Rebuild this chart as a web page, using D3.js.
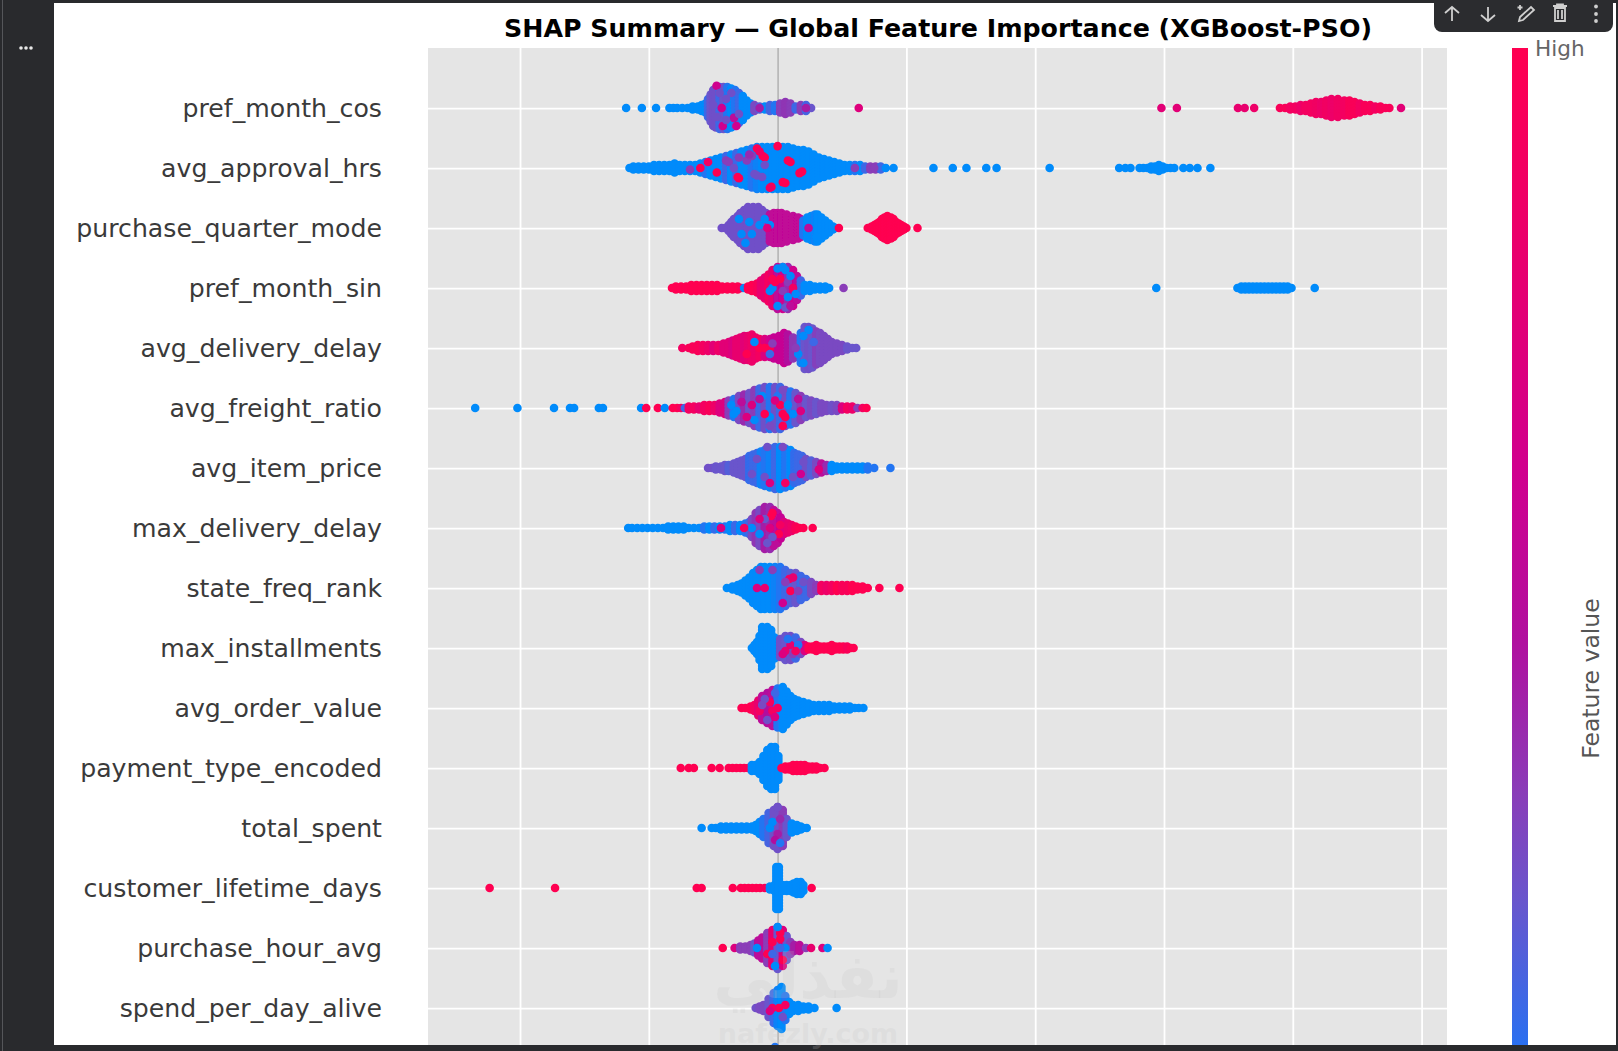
<!DOCTYPE html>
<html><head><meta charset="utf-8">
<script src="https://cdn.jsdelivr.net/npm/d3@7/dist/d3.min.js"></script>
<style>html,body{margin:0;padding:0;background:#292a2d;overflow:hidden}svg{display:block}text{font-family:"DejaVu Sans",sans-serif}</style>
</head><body><svg id="c" width="1618" height="1051"></svg>
<script>
const chartTitle = "SHAP Summary \u2014 Global Feature Importance (XGBoost-PSO)";
const features = ["pref_month_cos","avg_approval_hrs","purchase_quarter_mode","pref_month_sin","avg_delivery_delay","avg_freight_ratio","avg_item_price","max_delivery_delay","state_freq_rank","max_installments","avg_order_value","payment_type_encoded","total_spent","customer_lifetime_days","purchase_hour_avg","spend_per_day_alive"];
const gridTicks = [-1,-0.5,0,0.5,1,1.5,2,2.5];
const colorStops = [0,0.06,0.2,0.3,0.44,0.6,0.8,1];
const colorValues = ["#008bfb","#2a70f0","#6a55cc","#8a3cb8","#b0109f","#d0008e","#e8006e","#ff0051"];

// Each column: [SHAP value, stacked dots either side of the row, feature value 0..1]
const prefMonthCos = [[-.588,0,0],[-.527,0,0],[-.472,0,0],[-.42,0,0],[-.405,0,0],[-.39,0,0],[-.37,0,0],[-.35,0,0],[-.33,.5,0],[-.31,.5,0],[-.295,1,0],[-.28,1.5,0],[-.27,3,.1],[-.26,4.5,.2],[-.25,6,.22],[-.24,6.5,.22],[-.225,7,.1],[-.21,7,.2],[-.195,7,.05],[-.18,6.5,0],[-.165,6,.05],[-.15,5,.1],[-.135,4,0],[-.12,2.5,0],[-.105,1.5,0],[-.09,1,.25],[-.07,.5,.15],[-.05,.5,0],[-.03,1,.12],[-.01,1,.05],[.01,1.5,.3],[.03,2,.32],[.05,1.5,.3],[.07,.5,.1],[.09,1,.3],[.11,1,.12],[.13,0,.2],[.315,0,.72],[1.49,0,.75],[1.55,0,.75],[1.787,0,.8],[1.813,0,.8],[1.85,0,.85],[1.95,0,.95],[1.97,0,.95],[1.99,.5,.9],[2.01,.5,.9],[2.03,1,.85],[2.05,1,.9],[2.07,1.5,.9],[2.09,2,.88],[2.11,2,.85],[2.13,2.5,.88],[2.15,3,.85],[2.175,3,.88],[2.2,2.5,.9],[2.22,2.5,.95],[2.24,2,.95],[2.26,1.5,.9],[2.28,1,.95],[2.3,1,.95],[2.32,.5,.9],[2.34,.5,.95],[2.36,0,.95],[2.375,0,.95],[2.42,0,.75]];
const prefMonthCosMix = [[-.217,0,.6],[-.17,3.3,.5],[-.213,6,.6],[-.237,-7.4,.6],[-.2,-3,.22],[-.25,-1,.22],[-.18,-5,.22],[-.15,2,.22],[-.2,4,.22],[-.16,6,.6],[-.07,0,.4],[.11,0,.4],[-.225,-5,.22],[-.235,3,.22]];

const avgApprovalHrs = [[-.575,0,0],[-.56,.5,0],[-.54,.5,0],[-.52,.5,0],[-.5,.5,0],[-.48,1,0],[-.46,1,0],[-.44,1,0],[-.42,1,0],[-.4,1.5,0],[-.38,1,0],[-.36,1,0],[-.34,1,0],[-.32,1,0],[-.3,1.5,0],[-.28,2,.05],[-.26,2.5,0],[-.24,3,0],[-.22,3.5,0],[-.2,4,.1],[-.18,4.5,0],[-.16,5,.1],[-.14,5.5,0],[-.12,6,0],[-.1,6.5,.05],[-.08,7,.02],[-.06,7,0],[-.04,7,0],[-.02,7,0],[0,7,0],[.02,7,0],[.04,7,0],[.06,6.5,0],[.08,6,0],[.1,6,0],[.12,5.5,0],[.14,4.5,0],[.16,3.5,0],[.18,3,0],[.2,2.5,0],[.22,2,0],[.24,1.5,0],[.26,1,0],[.28,1,0],[.3,1,.05],[.32,1,0],[.34,.5,.1],[.36,.5,.3],[.38,.5,.3],[.4,.5,.1],[.42,0,0],[.45,0,0],[.605,0,0],[.68,0,0],[.733,0,0],[.81,0,0],[.85,0,0],[1.056,0,0],[1.326,0,0],[1.35,0,0],[1.37,0,0],[1.405,0,0],[1.42,0,0],[1.435,0,0],[1.45,.5,0],[1.465,.5,0],[1.48,1,0],[1.495,.5,0],[1.51,0,0],[1.525,0,0],[1.54,0,0],[1.575,0,0],[1.6,0,0],[1.63,0,0],[1.68,0,0]];
const avgApprovalHrsMix = [[-.3,0,1],[-.27,-2,.9],[-.236,1.5,1],[-.155,3,1],[-.15,3.4,1],[-.058,-4,1],[-.05,-3.5,1],[-.08,-6.5,1],[.04,-2.5,1],[.05,-2,1],[.085,1.7,1],[.095,1.2,1],[-.024,6.3,1],[-.03,6.6,.9],[.02,4.7,1],[.03,5,1],[0,-7.3,1],[-.2,-2.5,.3],[-.19,-2,.3],[-.12,-2.5,.3],[-.34,.5,.3],[.3,0,.3],[.375,0,.3],[-.15,-3.5,.3],[-.1,-4,.3],[-.09,2,.22],[-.08,2.5,.22],[-.17,0,.22],[-.05,-1,.22],[-.06,3,.22],[-.11,-4.5,.35],[-.07,-5.5,.9]];

const purchaseQuarterMode = [[-.217,0,.22],[-.205,0,.22],[-.19,1,.22],[-.18,2,.22],[-.17,3,.22],[-.155,4,.22],[-.145,5,.22],[-.13,6,.22],[-.115,7,.22],[-.095,7,.22],[-.075,7,.22],[-.06,6,.22],[-.045,5,.22],[-.03,4.5,.5],[-.015,5,.52],[0,5,.52],[.015,5,.52],[.035,4.5,.52],[.06,4,.52],[.08,3.5,.52],[.09,3,.52],[.1,2.5,.05],[.115,3.5,0],[.13,4,0],[.145,4.5,.02],[.155,4.5,0],[.17,3.5,0],[.185,2.5,0],[.2,1.5,0],[.215,.5,0],[.225,0,0],[.238,0,1],[.35,0,1],[.365,.5,1],[.376,1,1],[.386,1.5,1],[.395,2,1],[.405,3,1],[.415,3.5,1],[.426,4,1],[.44,3.5,1],[.45,3,1],[.46,2,1],[.47,1.5,1],[.48,1,1],[.49,.5,1],[.5,0,1],[.543,0,1]];
const purchaseQuarterModeMix = [[-.11,-2,0],[-.14,2,0],[-.1,2,0],[-.125,5,0],[-.07,-1,0],[-.05,-3,0],[-.15,-3,0],[-.03,-1,0],[-.04,0,.7],[.12,0,.5],[.15,3,0]];

const prefMonthSin = [[-.41,0,1],[-.395,.5,1],[-.375,.5,1],[-.355,.5,1],[-.335,1,1],[-.315,1,1],[-.295,1,1],[-.275,1,1],[-.255,1,1],[-.235,1,1],[-.215,.5,1],[-.195,.5,1],[-.175,.5,1],[-.155,.5,1],[-.14,0,.95],[-.13,0,0],[-.115,.5,1],[-.1,1,1],[-.08,1.5,.95],[-.065,2.5,.8],[-.05,3.5,.8],[-.035,4.5,.9],[-.02,6,.8],[0,7,.5],[.02,7,.6],[.04,7,.35],[.06,6,.6],[.075,4,.5],[.09,2.5,.1],[.105,1,0],[.125,1,0],[.145,.5,0],[.165,.5,0],[.185,.5,0],[.2,0,0],[.256,0,.3],[1.47,0,0],[1.785,0,0],[1.8,.5,0],[1.815,.5,0],[1.83,.5,0],[1.845,.5,0],[1.86,.5,0],[1.875,.5,0],[1.89,.5,0],[1.905,.5,0],[1.92,.5,0],[1.935,.5,0],[1.95,.5,0],[1.965,.5,0],[1.98,.5,0],[1.995,0,0],[2.085,0,0]];
const prefMonthSinMix = [[-.02,0,0],[-.01,-2,1],[0,-6.5,0],[.02,-7,0],[.03,-6,0],[.04,-2,.3],[.05,-4,0],[0,6,0],[.03,6.5,.2],[.05,6,.5],[-.03,1,0],[.06,0,.9],[.02,1,.3],[.04,3,0],[.07,2,0],[-.02,-3,1],[.01,-3,1]];

const avgDeliveryDelay = [[-.37,0,.9],[-.345,0,.95],[-.33,.5,.95],[-.31,1,.95],[-.29,1,.9],[-.27,1,.85],[-.25,1,.75],[-.23,1,.85],[-.21,1.5,.75],[-.19,2,.75],[-.175,2.5,.7],[-.16,3,.8],[-.145,3.5,.8],[-.13,4,.75],[-.115,4,.8],[-.1,4.5,.85],[-.085,3.5,.85],[-.07,3,.9],[-.05,3,.7],[-.03,3,.6],[-.015,3.5,.55],[.005,4,.55],[.025,5,.55],[.04,4.5,.45],[.06,3.5,.32],[.075,3,.32],[.09,5,.05],[.105,7,.2],[.12,7,.22],[.135,6.5,.2],[.15,5.5,.28],[.165,5,.25],[.18,4,.25],[.195,3,.25],[.21,2,.25],[.23,1.5,.25],[.25,1,.25],[.27,.5,.2],[.29,0,.2],[.305,0,.2]];
const avgDeliveryDelayMix = [[-.07,0,1],[-.05,0,1],[-.03,0,1],[-.09,-2,0],[-.02,-1.5,.3],[.08,2,0],[.1,5,0],[.12,-6,0],[.1,-4,0],[.07,0,.3],[.14,-2,.1],[-.12,2,1],[-.03,2,.1]];

const avgFreightRatio = [[-1.174,0,0],[-1.01,0,0],[-.868,0,0],[-.806,0,0],[-.79,0,0],[-.694,0,0],[-.678,0,0],[-.53,0,0],[-.51,0,1],[-.465,0,1],[-.438,0,0],[-.407,0,1],[-.39,0,1],[-.375,0,.9],[-.36,0,.1],[-.345,.5,.9],[-.325,.5,.9],[-.305,.5,.8],[-.285,1,.9],[-.265,1,.95],[-.245,1,.85],[-.225,1.5,.7],[-.205,2,.7],[-.19,2.5,.3],[-.17,3,.05],[-.15,4,.25],[-.13,4.5,.35],[-.11,5,.22],[-.09,6,.3],[-.07,6.5,.1],[-.05,7,.22],[-.03,7,.05],[-.01,7,.22],[.01,7,.1],[.03,6,.25],[.05,5.5,.05],[.07,5,.2],[.09,4,.3],[.11,3,.2],[.13,2.5,.25],[.15,2,.2],[.17,1.5,.25],[.19,1,.25],[.21,1,.22],[.23,1,.25],[.25,.5,.7],[.27,.5,.9],[.29,.5,.85],[.31,0,.3],[.33,0,.9],[.345,0,1]];
const avgFreightRatioMix = [[-.18,-1,0],[-.16,1,0],[-.17,2,0],[-.1,-1,.7],[-.09,4,0],[-.06,-4,0],[-.03,3,0],[0,-4,.05],[.01,-1,1],[.03,3,1],[.02,2,1],[.04,-1,0],[.06,2,0],[-.05,2,1],[-.01,-2.5,.7],[-.12,3,.7],[-.14,-2,.5],[-.03,6,.25],[.02,6,1],[.08,-3,.5],[.09,1,.7],[.02,-6,.25],[-.07,-3,.5]];

const avgItemPrice = [[-.27,0,.22],[-.255,0,.22],[-.24,.5,.2],[-.22,.5,.2],[-.205,1,.2],[-.19,1,.15],[-.17,1.5,.2],[-.155,2,.2],[-.14,2.5,.2],[-.125,3,.2],[-.11,4,.08],[-.095,4.5,.1],[-.08,5,.1],[-.065,5.5,.02],[-.05,6,.05],[-.03,6.5,.02],[-.01,7,.1],[.01,7,0],[.03,6.5,.05],[.05,6,0],[.065,5,.08],[.08,4.5,.1],[.095,4,.1],[.11,3,.22],[.13,2.5,.15],[.15,2,.25],[.17,1.5,.5],[.19,1,.35],[.21,1,0],[.23,.5,0],[.25,.5,0],[.27,.5,0],[.29,.5,0],[.31,.5,0],[.33,.5,0],[.35,.5,.05],[.375,0,.05],[.438,0,.05]];
const avgItemPriceMix = [[.09,2,.6],[.16,.5,.7],[.03,5,.9],[-.04,-7,.22],[.02,-7,.25],[-.08,-3,.22],[-.05,3,.22],[.06,3,.22],[-.03,5,.7],[.1,-2,.22],[-.1,2,.22]];

const maxDeliveryDelay = [[-.58,0,0],[-.565,0,0],[-.545,0,0],[-.525,0,0],[-.505,0,0],[-.485,0,0],[-.465,0,0],[-.445,0,0],[-.425,.5,0],[-.405,.5,0],[-.385,.5,0],[-.365,.5,0],[-.345,0,0],[-.325,0,0],[-.305,0,0],[-.285,.5,.05],[-.265,.5,0],[-.245,.5,.08],[-.225,.5,0],[-.205,.5,.05],[-.185,1,0],[-.165,1,.1],[-.145,1,0],[-.125,1.5,.05],[-.11,2,.1],[-.1,3,.25],[-.085,5,.32],[-.07,6,.25],[-.05,7,.4],[-.03,7,.35],[-.015,6,.5],[0,5,.5],[.012,3.5,.55],[.025,2,.7],[.04,1.5,.8],[.055,1,.85],[.07,.5,.95],[.085,0,1],[.1,0,1],[.136,0,1]];
const maxDeliveryDelayMix = [[-.025,-4,1],[-.02,-5,1],[.005,2,1],[.01,-1,.9],[-.07,2,0],[-.05,-3,.2],[-.04,5,.2],[-.02,3,.2],[-.1,0,0],[-.07,-3,.7],[-.03,0,.7],[-.22,0,.7],[-.13,0,.9]];

const stateFreqRank = [[-.197,0,0],[-.175,.5,0],[-.155,1,0],[-.14,1.5,0],[-.125,2.5,0],[-.11,3.5,0],[-.095,5,0],[-.08,6,0],[-.065,7,0],[-.05,7,0],[-.03,7,0],[-.01,7,.02],[.01,7,.05],[.03,6,.1],[.05,5,.15],[.07,5,.2],[.09,4,.1],[.11,3,.1],[.13,2,.25],[.15,1,.3],[.17,1,.9],[.19,1,.85],[.21,1,.9],[.23,1,1],[.25,1,.95],[.27,1,.95],[.29,1,1],[.31,.5,1],[.33,.5,1],[.35,0,1],[.395,0,1],[.473,0,1]];
const stateFreqRankMix = [[-.08,0,.7],[-.05,0,.8],[-.07,-6,.3],[-.02,-6,.3],[.045,-3,.9],[.06,-3.5,.8],[.05,1,1],[.02,5,.6],[.03,-2,.3],[.08,1,.3],[.1,-2,.22]];

const maxInstallments = [[-.1,0,0],[-.09,1,0],[-.08,2,0],[-.07,4,0],[-.06,7,0],[-.04,7,0],[-.025,6,0],[-.012,3.5,0],[.01,3,.22],[.03,4,.2],[.05,4,.22],[.07,3.5,.1],[.09,2,.25],[.105,1,.7],[.12,.5,1],[.135,.5,1],[.15,1,1],[.165,.5,1],[.18,.5,1],[.195,.5,1],[.21,1,1],[.225,.5,1],[.24,.5,1],[.255,.5,1],[.27,.5,.95],[.285,0,1],[.295,0,1]];
const maxInstallmentsMix = [[.03,1,.8],[.05,-1,.8],[.02,2,.7],[.06,2,.3],[.08,-1,.05],[.04,-3,.05],[.07,1,.9]];

const avgOrderValue = [[-.14,0,1],[-.125,0,1],[-.105,.5,1],[-.09,1,.9],[-.075,2.5,.8],[-.06,4,.5],[-.04,5,.45],[-.02,6,.5],[0,6.5,.05],[.02,7,0],[.035,5.5,0],[.05,4,0],[.065,3,0],[.08,2.5,0],[.1,2,0],[.12,1.5,0],[.14,1,0],[.16,1,0],[.18,1,0],[.2,1,0],[.22,.5,0],[.24,.5,0],[.26,.5,0],[.28,.5,0],[.3,0,0],[.315,0,0],[.333,0,0]];
const avgOrderValueMix = [[-.07,1,.9],[-.03,-2,.9],[-.02,1,.9],[-.05,-3,.22],[-.04,4,.22],[-.06,-1,.25],[0,0,.9],[-.01,3,.7],[-.01,-5,.1]];

const paymentTypeEncoded = [[-.376,0,1],[-.345,0,1],[-.325,0,1],[-.256,0,1],[-.225,0,1],[-.19,0,1],[-.175,0,1],[-.16,0,1],[-.145,0,1],[-.13,0,1],[-.115,0,1],[-.1,1,0],[-.085,1,0],[-.07,2,0],[-.055,4,0],[-.04,6,0],[-.025,7,0],[-.01,7,0],[.003,4,0],[.015,0,1],[.03,.5,1],[.045,.5,1],[.06,1,1],[.075,1,1],[.09,1,1],[.105,1,1],[.12,.5,1],[.135,.5,1],[.15,.5,1],[.165,0,1],[.182,0,1]];

const totalSpent = [[-.295,0,0],[-.256,0,0],[-.24,0,0],[-.22,.5,0],[-.2,.5,0],[-.18,.5,0],[-.16,.5,0],[-.14,.5,0],[-.12,.5,0],[-.1,.5,0],[-.085,1,0],[-.07,2,0],[-.055,3,.05],[-.035,5,.12],[-.015,6,.22],[0,7,.22],[.02,6,.3],[.035,3,.2],[.055,1.5,0],[.075,1,0],[.09,.5,0],[.1,0,0],[.113,0,0]];
const totalSpentMix = [[-.02,-2,0],[0,2,.4],[.01,-3,.35],[-.01,4,.45],[-.03,0,0],[.01,5,.05],[0,-7,.22]];

const customerLifetimeDays = [[-1.118,0,1],[-.864,0,1],[-.314,0,1],[-.295,0,1],[-.174,0,1],[-.143,0,1],[-.128,0,1],[-.113,0,1],[-.098,0,1],[-.083,0,1],[-.068,0,1],[-.05,0,.95],[-.03,.5,0],[-.012,1,0],[-.005,7,0],[.005,7,0],[.02,1,0],[.035,1,0],[.05,1,0],[.062,1.5,0],[.075,2,0],[.09,2,0],[.1,1,0],[.132,0,1]];

const purchaseHourAvg = [[-.213,0,1],[-.167,0,.7],[-.145,.5,.3],[-.125,.5,.3],[-.105,1,.3],[-.09,1.5,.2],[-.075,2.5,.5],[-.06,3.5,.5],[-.04,5,.3],[-.02,6,.8],[0,7,.2],[.02,6,.7],[.035,4,.2],[.05,2,.3],[.065,1,.4],[.085,1,.5],[.11,0,.3],[.13,0,.8],[.174,0,.7],[.194,0,0]];
const purchaseHourAvgMix = [[-.02,-2,1],[.01,-3,1],[.02,4,1],[-.04,2,1],[.01,-5,1],[-.01,6,0],[0,-7,0],[-.08,0,0],[.03,0,0],[.01,0,.1],[-.02,2,.1]];

const spendPerDayAlive = [[-.085,0,.22],[-.07,.5,.25],[-.055,1,.25],[-.035,3,.2],[-.015,5,.1],[0,6,.02],[.015,7,0],[.03,4,.05],[.045,2,0],[.06,1,0],[.08,1,0],[.1,.5,0],[.12,.5,0],[.143,0,0],[.229,0,0]];
const spendPerDayAliveMix = [[.005,0,1],[-.02,0,.9],[.03,-1,.9],[-.03,1,.7],[.02,3,.22]];

const nextFeatureTip = [[-.01,7,.05]];

const rowColumns = [prefMonthCos,avgApprovalHrs,purchaseQuarterMode,prefMonthSin,avgDeliveryDelay,avgFreightRatio,avgItemPrice,maxDeliveryDelay,stateFreqRank,maxInstallments,avgOrderValue,paymentTypeEncoded,totalSpent,customerLifetimeDays,purchaseHourAvg,spendPerDayAlive,nextFeatureTip];
const rowMix = [prefMonthCosMix,avgApprovalHrsMix,purchaseQuarterModeMix,prefMonthSinMix,avgDeliveryDelayMix,avgFreightRatioMix,avgItemPriceMix,maxDeliveryDelayMix,stateFreqRankMix,maxInstallmentsMix,avgOrderValueMix,[],totalSpentMix,[],purchaseHourAvgMix,spendPerDayAliveMix,[]];

const svg = d3.select("#c");
const W = 1618, H = 1051, plotL = 428, plotR = 1447, plotT = 48, plotB = 1045;
const x = d3.scaleLinear().domain([-1.3572,2.5986]).range([plotL,plotR]);
const rowY = d3.scaleLinear().domain([0,16]).range([108,1068]);
const layer = 3, dotR = 4.3;
const color = d3.scaleLinear().domain(colorStops).range(colorValues);

svg.append("rect").attr("width",W).attr("height",H).attr("fill","#292a2d");
svg.append("rect").attr("x",2).attr("y",0).attr("width",1).attr("height",H).attr("fill","#55565a");
svg.append("rect").attr("x",54).attr("y",3).attr("width",1562).attr("height",1042).attr("fill","#ffffff");

const defs = svg.append("defs");
defs.append("clipPath").attr("id","plotClip").append("rect").attr("x",plotL).attr("y",plotT).attr("width",plotR-plotL).attr("height",plotB-plotT);
defs.append("filter").attr("id","soft").attr("x","-5%").attr("y","-5%").attr("width","110%").attr("height","110%")
  .append("feGaussianBlur").attr("stdDeviation",.7);

svg.append("rect").attr("x",plotL).attr("y",plotT).attr("width",plotR-plotL).attr("height",plotB-plotT).attr("fill","#e5e5e5");
const plot = svg.append("g").attr("clip-path","url(#plotClip)");

const xAxis = d3.axisBottom(x).tickValues(gridTicks).tickSize(-(plotB-plotT)).tickFormat("");
const gx = plot.append("g").attr("transform",`translate(0,${plotB})`).call(xAxis);
gx.select(".domain").remove();
gx.selectAll("line").attr("stroke",d=>d===0?"#b4b4b4":"#ffffff").attr("stroke-width",d=>d===0?1.6:1.8);

plot.selectAll(".hgrid").data(d3.range(16)).join("line").attr("class","hgrid")
  .attr("x1",plotL).attr("x2",plotR).attr("y1",i=>rowY(i)+.7).attr("y2",i=>rowY(i)+.7)
  .attr("stroke","#ffffff").attr("stroke-width",1.8);

const dots = [];
rowColumns.forEach((cols,r)=>cols.forEach(([v,h,c])=>{
  d3.range(-h,h+1).forEach(k=>dots.push({v,r,k,c}));
}));
rowMix.forEach((mix,r)=>mix.forEach(([v,k,c])=>dots.push({v,r,k,c})));

plot.append("g").attr("filter","url(#soft)").selectAll("circle").data(dots).join("circle")
  .attr("cx",d=>x(d.v)).attr("cy",d=>rowY(d.r)+d.k*layer).attr("r",dotR).attr("fill",d=>color(d.c));

svg.append("g").selectAll("text").data(features).join("text")
  .attr("x",382).attr("y",(d,i)=>rowY(i)).attr("dy","0.36em").attr("text-anchor","end")
  .attr("font-size",25.2).attr("fill","#3a3a3a").text(d=>d);

svg.append("text").attr("x",938).attr("y",28).attr("dy","0.36em").attr("text-anchor","middle")
  .attr("font-size",25.3).attr("font-weight","bold").attr("fill","#000").text(chartTitle);

// colour bar
const cbScale = d3.scaleLinear().domain([0,1]).range([1110,48]);
defs.append("linearGradient").attr("id","cbarGrad").attr("gradientUnits","userSpaceOnUse")
  .attr("x1",0).attr("x2",0).attr("y1",cbScale(0)).attr("y2",cbScale(1))
  .selectAll("stop").data(colorStops).join("stop").attr("offset",d=>d).attr("stop-color",(d,i)=>colorValues[i]);
const cb = svg.append("g");
cb.append("rect").attr("x",1512).attr("y",48).attr("width",16).attr("height",997).attr("fill","url(#cbarGrad)");
cb.append("text").attr("x",1535).attr("y",48).attr("dy","0.36em").attr("font-size",21.6).attr("fill","#666666").text("High");
cb.append("text").attr("transform","translate(1591,678.5) rotate(-90)").attr("dy","0.36em").attr("text-anchor","middle").attr("font-size",23.5).attr("fill","#555555").text("Feature value");

// watermark
const wm = svg.append("g").attr("fill","#c4c4c4").attr("fill-opacity",.2);
wm.append("text").attr("x",808).attr("y",998).attr("text-anchor","middle").attr("font-size",62).attr("font-weight","bold").text("\u0646\u0641\u0630\u0644\u064a");
wm.append("text").attr("x",808).attr("y",1043).attr("text-anchor","middle").attr("font-size",27).attr("font-weight","bold").text("nafezly.com");

// cell toolbar
const tb = svg.append("g");
tb.append("path").attr("d","M1434,0H1613V24a8,8 0 0 1 -8,8H1442a8,8 0 0 1 -8,-8Z").attr("fill","#2b2c2f");
const ic = tb.append("g").attr("fill","none").attr("stroke","#cfcfcf").attr("stroke-width",1.8);
ic.append("path").attr("d","M1452,21V7M1445,13L1452,7L1459,13");
ic.append("path").attr("d","M1488,7V21M1481,15L1488,21L1495,15");
ic.append("path").attr("d","M1519,21L1520,17L1531,7L1534,10L1523,20Z");
ic.append("path").attr("d","M1520,5V10M1517.5,7.5H1522.5");
ic.append("path").attr("d","M1553,6H1567M1555,8H1565V21H1555ZM1558,10V19M1562,10V19M1557,6V4.5H1563V6");
tb.selectAll(".kd").data([6.5,14,21]).join("circle").attr("class","kd").attr("cx",1596).attr("cy",d=>d).attr("r",1.9).attr("fill","#cfcfcf");
svg.selectAll(".md").data([21,26,31]).join("circle").attr("class","md").attr("cx",d=>d).attr("cy",48).attr("r",1.8).attr("fill","#e8e8e8");
</script></body></html>
